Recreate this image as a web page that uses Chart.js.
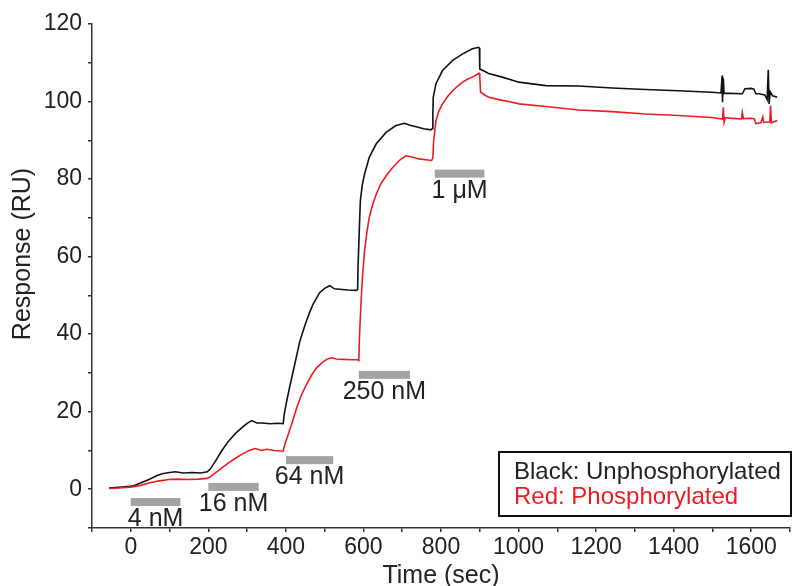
<!DOCTYPE html>
<html>
<head>
<meta charset="utf-8">
<script src="https://cdn.jsdelivr.net/npm/chart.js@4"></script>
<style>
  body { margin: 0; background: #fff; }
  #wrap { width: 792px; height: 586px; }
</style>
</head>
<body>
<div id="wrap"><canvas id="myChart" width="792" height="586"></canvas></div>
<script>
// sensorgram: time (s) and response (RU)
const blackTime = [-56, -30, 4, 25, 47, 65, 81, 100, 115, 135, 158, 180, 197, 205, 218, 235, 252, 270, 286, 300, 312, 325, 338, 360, 380, 393,
  396, 402, 410, 419, 428, 436, 445, 453, 462, 470, 487, 500, 513, 525, 538, 560, 581, 585,
  586, 589, 592, 597, 603, 615, 633, 659, 684, 706, 720, 736, 755, 774, 777, 779,
  780, 787, 804, 830, 856, 881, 897, 899, 900, 916, 923, 958, 984, 1001, 1070, 1155, 1241, 1327, 1412, 1498,
  1522, 1525, 1526, 1528, 1530, 1547, 1577, 1584, 1600, 1607, 1612, 1620, 1635, 1641, 1644, 1646, 1649, 1655, 1667];
const blackRU = [0.3, 0.5, 0.8, 1.6, 2.5, 3.4, 4.0, 4.3, 4.5, 4.2, 4.3, 4.2, 4.5, 5.2, 7.2, 10.0, 12.4, 14.4, 15.8, 17.0, 17.7, 17.1, 17.1, 16.9, 17.0, 16.9,
  19.5, 22.7, 26.5, 30.5, 34.6, 38.2, 41.0, 43.4, 45.8, 47.7, 50.7, 51.8, 52.5, 51.7, 51.6, 51.4, 51.3, 51.5,
  57.2, 66.0, 74.4, 78.5, 81.3, 85.6, 89.1, 92.1, 93.8, 94.4, 93.9, 93.5, 93.0, 92.7, 93.0, 97.0,
  101.1, 104.6, 108.0, 110.6, 112.3, 113.6, 114.0, 113.8, 108.4, 107.6, 107.2, 106.3, 105.5, 105.0, 104.1, 104.0, 103.5, 103.1, 102.8, 102.4,
  102.2, 106.7, 99.8, 106.0, 102.1, 102.1, 102.0, 103.3, 103.4, 103.2, 102.0, 102.0, 101.7, 100.5, 108.2, 99.4, 102.5, 101.5, 101.1];

const redTime = [-56, -30, 4, 25, 47, 70, 98, 120, 150, 175, 197, 205, 218, 235, 252, 270, 286, 305, 321, 338, 351, 370, 393,
  397, 406, 417, 428, 440, 453, 466, 479, 492, 505, 517, 530, 548, 570, 585, 588,
  590, 594, 598, 603, 609, 615, 624, 633, 645, 659, 672, 684, 696, 709, 725, 744, 760, 776, 779,
  781, 787, 795, 804, 817, 830, 843, 856, 869, 881, 898, 900, 902, 916, 923, 958, 984, 1001, 1070, 1155, 1241, 1327, 1412, 1498,
  1526, 1528, 1530, 1533, 1560, 1575, 1577, 1580, 1600, 1608, 1612, 1625, 1630, 1632, 1648, 1650, 1652, 1667];
const redRU = [0.2, 0.3, 0.6, 1.0, 1.6, 2.1, 2.5, 2.6, 2.5, 2.6, 2.8, 3.2, 4.2, 5.5, 6.8, 8.0, 9.0, 10.0, 10.5, 10.0, 10.3, 10.0, 9.8,
  11.5, 14.1, 17.5, 21.0, 24.3, 27.0, 29.4, 31.3, 32.5, 33.5, 33.9, 33.6, 33.5, 33.4, 33.4, 33.2,
  40.0, 48.6, 55.5, 61.5, 66.3, 70.1, 73.5, 76.1, 78.8, 80.9, 82.6, 83.9, 85.1, 86.0, 85.7, 85.2, 85.0, 84.8, 85.5,
  89.9, 95.1, 97.6, 99.4, 101.3, 102.8, 104.0, 105.0, 105.8, 106.3, 107.3, 106.5, 102.4, 101.5, 101.1, 100.3, 99.8, 99.4, 98.7, 97.8, 97.4, 96.8, 96.4, 95.9,
  95.5, 98.5, 94.6, 95.8, 95.6, 95.5, 97.2, 95.6, 95.7, 95.5, 94.3, 94.5, 96.0, 94.6, 94.8, 99.0, 94.5, 95.1];

// injection bars
const injLabels = ['4 nM', '16 nM', '64 nM', '250 nM', '1 μM'];
const injStart = [0, 200, 400, 588, 784];
const injEnd = [128, 330, 522, 720, 912];
const injLevel = [-3.3, 0.6, 7.5, 29.5, 81.4];

// axes
const xMin = -100, xMax = 1700, xStep = 100;
const yMin = -10, yMax = 120, yStep = 10;

const legendLines = ['Black: Unphosphorylated', 'Red: Phosphorylated'];
const RED = 'rgb(236,28,36)';
const FONT = '"Liberation Sans", Arial, sans-serif';

function pairs(t, v) {
    return t.map((x, i) => ({ x: x, y: v[i] }));
}
function stepTicks(min, max, step) {
    const out = [];
    for (let v = min; v <= max; v += step) out.push({ value: v });
    return out;
}

// gray bars, axis titles and the boxed legend
const extras = {
    id: 'extras',
    afterDatasetsDraw(chart) {
        const c = chart.ctx, xs = chart.scales.x, ys = chart.scales.y;
        c.save();
        c.font = '25px ' + FONT;
        c.textAlign = 'center';
        c.textBaseline = 'middle';
        for (let i = 0; i < injLabels.length; i++) {
            const x0 = xs.getPixelForValue(injStart[i]);
            const x1 = xs.getPixelForValue(injEnd[i]);
            const y = ys.getPixelForValue(injLevel[i]);
            c.fillStyle = '#a3a3a3';
            c.fillRect(x0, y - 4, x1 - x0, 8);
            c.fillStyle = '#222';
            c.fillText(injLabels[i], (x0 + x1) / 2, y + 17);
        }

        // axis titles
        c.font = '25px ' + FONT;
        c.fillStyle = '#222';
        c.fillText('Time (sec)', (chart.chartArea.left + chart.chartArea.right) / 2, 576);
        c.save();
        c.translate(23, 254);
        c.rotate(-Math.PI / 2);
        c.fillText('Response (RU)', 0, 0);
        c.restore();

        // legend box
        c.lineWidth = 2;
        c.strokeStyle = '#111';
        c.fillStyle = '#fff';
        c.fillRect(499, 452, 292, 64);
        c.strokeRect(499, 452, 292, 64);
        c.textAlign = 'left';
        c.font = '24px ' + FONT;
        c.fillStyle = '#222';
        c.fillText(legendLines[0], 514, 472);
        c.fillStyle = RED;
        c.fillText(legendLines[1], 514, 497);
        c.restore();
    }
};

const ctx = document.getElementById('myChart').getContext('2d');
const chart = new Chart(ctx, {
    type: 'line',
    data: {
        datasets: [{
            label: 'Red',
            data: pairs(redTime, redRU),
            borderColor: RED,
            borderWidth: 1.6,
            pointRadius: 0,
            tension: 0
        }, {
            label: 'Black',
            data: pairs(blackTime, blackRU),
            borderColor: '#111',
            borderWidth: 1.6,
            pointRadius: 0,
            tension: 0
        }]
    },
    options: {
        responsive: false,
        animation: false,
        devicePixelRatio: 1,
        layout: { padding: { top: 24, right: 0, left: 0, bottom: 0 } },
        plugins: { legend: { display: false }, tooltip: { enabled: false } },
        scales: {
            x: {
                type: 'linear',
                min: xMin, max: xMax,
                afterBuildTicks: s => { s.ticks = stepTicks(xMin, xMax, xStep); },
                afterFit: s => { s.height = 58; },
                border: { display: true, color: '#333', width: 1.5 },
                grid: { drawOnChartArea: false, drawTicks: true, tickLength: 4, color: '#333', lineWidth: 1.5 },
                ticks: {
                    autoSkip: false, maxRotation: 0, padding: 2,
                    color: '#222', font: { family: FONT, size: 23 },
                    callback: v => (v >= 0 && v % 200 === 0 && v <= 1600) ? String(v) : ''
                }
            },
            y: {
                type: 'linear',
                min: yMin, max: yMax,
                afterBuildTicks: s => { s.ticks = stepTicks(yMin, yMax, yStep); },
                afterFit: s => { s.width = 92; },
                border: { display: true, color: '#333', width: 1.5 },
                grid: { drawOnChartArea: false, drawTicks: true, tickLength: 4, color: '#333', lineWidth: 1.5 },
                ticks: {
                    autoSkip: false, padding: 6,
                    color: '#222', font: { family: FONT, size: 23 },
                    callback: v => (v >= 0 && v % 20 === 0) ? String(v) : ''
                }
            }
        }
    },
    plugins: [extras]
});
</script>
</body>
</html>
